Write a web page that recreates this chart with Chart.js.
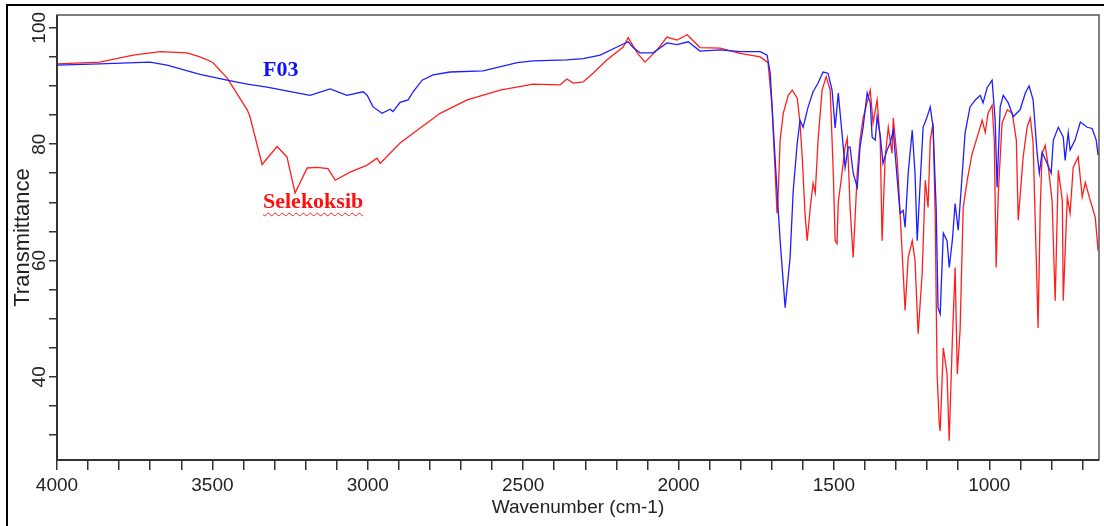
<!DOCTYPE html>
<html>
<head>
<meta charset="utf-8">
<script src="https://cdn.jsdelivr.net/npm/chart.js@4.4.0/dist/chart.umd.min.js"></script>
<style>
  html, body { margin: 0; padding: 0; background: #fff; }
  #wrap { position: relative; width: 1104px; height: 526px; overflow: hidden; }
  #frame { position: absolute; left: 6px; top: 4px; width: 1110px; height: 540px; border: 2px solid #000; box-sizing: border-box; pointer-events: none; }
  .lbl { position: absolute; font-family: "Liberation Serif", "Times New Roman", serif; font-weight: bold; font-size: 22px; line-height: 22px; white-space: nowrap; }
  #lblF03 { left: 263px; top: 58px; color: #1010ff; }
  #lblSel { left: 263px; top: 190px; color: #ff1010; text-decoration: underline wavy #ff2020; text-decoration-thickness: 1px; text-underline-offset: 4px; }
</style>
</head>
<body>
<div id="wrap">
  <canvas id="chart" width="1104" height="526"></canvas>
  <div id="frame"></div>
  <div class="lbl" id="lblF03">F03</div>
  <div class="lbl" id="lblSel">Selekoksib</div>
</div>
<script>
// F03 spektrumu (mavi)
const wnF03 = [4000, 3862, 3701, 3646, 3540, 3453, 3388, 3324, 3228, 3186, 3121, 3067, 3015, 3002, 2983, 2954, 2928, 2919, 2896, 2870, 2854, 2825, 2790, 2735, 2629, 2519, 2468, 2359, 2307, 2252, 2198, 2162, 2146, 2124, 2082, 2037, 2005, 1969, 1931, 1866, 1802, 1737, 1715, 1705, 1696, 1683, 1673, 1657, 1641, 1631, 1618, 1609, 1599, 1583, 1567, 1551, 1535, 1519, 1506, 1496, 1486, 1474, 1464, 1454, 1448, 1438, 1425, 1416, 1406, 1393, 1383, 1377, 1367, 1361, 1351, 1342, 1329, 1319, 1309, 1296, 1287, 1277, 1271, 1261, 1248, 1239, 1232, 1222, 1213, 1200, 1190, 1181, 1171, 1165, 1158, 1148, 1136, 1129, 1119, 1110, 1100, 1087, 1078, 1062, 1045, 1029, 1020, 1007, 991, 981, 975, 965, 955, 939, 923, 901, 884, 872, 859, 846, 839, 830, 814, 801, 794, 778, 762, 756, 746, 740, 724, 707, 685, 669, 656, 650];
const tF03 = [93.6, 93.8, 94.1, 93.6, 92.0, 91.0, 90.3, 89.8, 88.8, 88.4, 89.5, 88.4, 89.0, 88.4, 86.4, 85.3, 86.0, 85.6, 87.2, 87.6, 89.0, 91.0, 91.9, 92.4, 92.6, 94.0, 94.3, 94.5, 94.7, 95.3, 96.7, 97.6, 96.6, 95.7, 95.7, 97.4, 97.1, 97.6, 96.0, 96.2, 95.9, 95.9, 95.3, 92.2, 83.6, 72.0, 63.4, 51.9, 60.5, 72.0, 80.2, 84.1, 82.9, 86.4, 89.0, 90.5, 92.4, 92.2, 89.3, 82.8, 88.8, 81.9, 76.0, 79.5, 79.5, 75.0, 72.6, 79.5, 82.9, 88.8, 87.1, 81.2, 80.7, 84.7, 81.5, 76.7, 79.0, 80.2, 82.4, 73.8, 68.1, 68.6, 65.7, 75.0, 82.4, 75.0, 63.4, 73.8, 82.9, 84.7, 86.4, 83.0, 69.1, 51.9, 50.8, 64.7, 63.4, 58.8, 63.4, 69.8, 65.2, 75.0, 81.9, 86.4, 87.6, 88.4, 87.1, 89.7, 91.0, 84.0, 72.6, 86.4, 88.4, 87.1, 84.7, 85.9, 88.8, 90.0, 87.6, 78.4, 75.0, 78.6, 76.7, 75.0, 80.7, 82.9, 81.2, 77.2, 82.0, 79.0, 80.7, 83.8, 82.9, 82.7, 80.7, 78.1];

// Selekoksib spektrumu (kirmizi)
const wnSel = [4000, 3862, 3755, 3668, 3582, 3540, 3517, 3498, 3453, 3434, 3388, 3379, 3340, 3292, 3260, 3234, 3195, 3163, 3128, 3105, 3057, 3002, 2970, 2960, 2896, 2841, 2767, 2680, 2574, 2468, 2381, 2359, 2339, 2307, 2275, 2230, 2178, 2162, 2133, 2108, 2069, 2037, 2005, 1972, 1931, 1866, 1802, 1737, 1712, 1699, 1689, 1683, 1679, 1673, 1663, 1647, 1634, 1618, 1609, 1602, 1593, 1586, 1576, 1567, 1560, 1551, 1538, 1525, 1512, 1502, 1496, 1490, 1486, 1474, 1464, 1457, 1451, 1448, 1438, 1425, 1416, 1406, 1383, 1374, 1361, 1351, 1345, 1335, 1325, 1313, 1309, 1296, 1287, 1277, 1271, 1261, 1248, 1239, 1229, 1216, 1206, 1197, 1190, 1181, 1174, 1168, 1161, 1158, 1148, 1136, 1129, 1119, 1110, 1103, 1094, 1084, 1071, 1055, 1039, 1023, 1013, 1004, 991, 984, 978, 971, 959, 942, 926, 913, 907, 891, 878, 868, 859, 849, 843, 836, 830, 820, 810, 798, 788, 778, 765, 762, 749, 740, 730, 714, 701, 691, 675, 659, 650];
const tSel = [93.8, 94.1, 95.3, 95.9, 95.7, 95.0, 94.5, 94.0, 91.4, 89.8, 85.9, 84.7, 76.5, 79.6, 77.8, 71.6, 75.9, 76.0, 75.8, 73.8, 75.2, 76.4, 77.6, 76.7, 80.2, 82.4, 85.3, 87.6, 89.3, 90.3, 90.2, 91.2, 90.5, 90.7, 92.2, 94.5, 96.7, 98.3, 95.7, 94.1, 96.2, 98.4, 97.9, 98.8, 96.6, 96.5, 95.6, 95.0, 94.0, 86.4, 75.0, 68.1, 72.0, 80.7, 85.3, 88.4, 89.3, 87.9, 83.6, 77.8, 68.1, 63.4, 69.1, 73.3, 71.6, 80.7, 89.3, 91.6, 89.3, 75.0, 63.4, 62.9, 70.0, 75.0, 79.5, 81.0, 73.5, 69.1, 60.5, 75.0, 80.7, 84.5, 89.3, 83.6, 87.6, 80.7, 63.4, 77.8, 82.9, 78.4, 84.5, 77.2, 68.1, 57.8, 51.4, 60.5, 63.4, 60.0, 47.4, 57.8, 73.8, 69.1, 80.7, 83.6, 67.5, 40.5, 31.9, 30.7, 45.0, 40.5, 29.0, 46.2, 58.8, 40.5, 48.0, 69.1, 73.8, 78.4, 81.2, 84.1, 82.0, 85.3, 86.7, 80.7, 58.8, 71.6, 83.6, 85.9, 85.3, 80.7, 66.9, 77.8, 83.0, 84.5, 80.2, 60.5, 48.4, 69.1, 78.4, 79.8, 76.0, 70.3, 53.1, 75.5, 70.3, 53.1, 70.9, 68.1, 76.0, 77.8, 70.9, 73.4, 70.3, 67.4, 61.7];

// eksen etiketleri
const xMajor = [4000, 3500, 3000, 2500, 2000, 1500, 1000];
const yMajor = [40, 60, 80, 100];

function puntos(wn, t) {
  return wn.map((w, i) => ({ x: w, y: t[i] }));
}

// cizim alaninin cercevesi
const cerceve = {
  id: "cerceve",
  afterDraw(chart) {
    const { ctx, chartArea: a } = chart;
    ctx.save();
    ctx.strokeStyle = "#555";
    ctx.lineWidth = 1.5;
    ctx.strokeRect(a.left, a.top, a.right - a.left, a.bottom - a.top);
    ctx.strokeStyle = "#333";
    ctx.lineWidth = 2;
    ctx.beginPath();
    ctx.moveTo(a.left, a.top);
    ctx.lineTo(a.left, a.bottom);
    ctx.lineTo(a.right, a.bottom);
    ctx.stroke();
    ctx.restore();
  }
};

const ctx = document.getElementById("chart");
const grafico = new Chart(ctx, {
  type: "line",
  data: {
    datasets: [
      {
        label: "F03",
        data: puntos(wnF03, tF03),
        borderColor: "rgb(30, 30, 255)",
        borderWidth: 1.3,
        pointRadius: 0,
        tension: 0,
        fill: false
      },
      {
        label: "Selekoksib",
        data: puntos(wnSel, tSel),
        borderColor: "rgb(255, 30, 30)",
        borderWidth: 1.3,
        pointRadius: 0,
        tension: 0,
        fill: false
      }
    ]
  },
  options: {
    responsive: false,
    animation: false,
    devicePixelRatio: 1,
    layout: { padding: { left: 0, right: 5, top: 15, bottom: 0 } },
    plugins: { legend: { display: false }, tooltip: { enabled: false } },
    scales: {
      x: {
        type: "linear",
        reverse: true,
        min: 647,
        max: 4000,
        afterFit(scale) { scale.height = 66; },
        border: { display: false },
        grid: { drawOnChartArea: false, drawTicks: true, tickLength: 10, color: "#333", lineWidth: 1.5 },
        ticks: {
          stepSize: 100,
          includeBounds: false,
          autoSkip: false,
          maxRotation: 0,
          padding: 4,
          color: "#222",
          font: { family: "Liberation Sans, Arial, sans-serif", size: 19 },
          callback: (v) => (xMajor.includes(v) ? String(v) : "")
        },
        title: {
          display: true,
          text: "Wavenumber (cm-1)",
          color: "#222",
          font: { family: "Liberation Sans, Arial, sans-serif", size: 19 },
          padding: { top: 0, bottom: 7 }
        }
      },
      y: {
        min: 25.7,
        max: 102.2,
        afterFit(scale) { scale.width = 57; },
        border: { display: false },
        grid: { drawOnChartArea: false, drawTicks: true, tickLength: 8, color: "#333", lineWidth: 1.5 },
        ticks: {
          stepSize: 5,
          includeBounds: false,
          autoSkip: false,
          minRotation: 90,
          maxRotation: 90,
          crossAlign: "center",
          padding: -7,
          color: "#222",
          font: { family: "Liberation Sans, Arial, sans-serif", size: 19 },
          callback: (v) => (yMajor.includes(v) ? String(v) : "")
        },
        title: {
          display: true,
          text: "Transmittance",
          color: "#222",
          font: { family: "Liberation Sans, Arial, sans-serif", size: 22 },
          padding: { top: 10, bottom: 0 }
        }
      }
    }
  },
  plugins: [cerceve]
});
</script>
</body>
</html>
